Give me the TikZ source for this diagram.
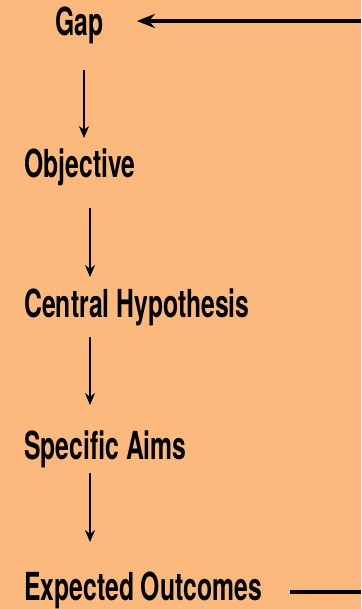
\documentclass[tikz,border=0pt]{standalone}
\usepackage{fontspec}
\setmainfont[FakeStretch=0.64]{TeX Gyre Heros}
\usepackage{tikz}
\usetikzlibrary{arrows.meta,positioning,calc}

\definecolor{peach}{RGB}{251,185,125}

\tikzset{
    step label/.style={anchor=base west,inner sep=0pt,font=\fontsize{19.3}{21}\selectfont\bfseries},
    flow/.style={->,line width=1.2pt},
    feedback/.style={line width=1.8pt}
}

\begin{document}
\begin{tikzpicture}[x=0.5pt,y=-0.5pt,line cap=butt,>={Stealth[length=6pt,width=5pt]}]

        % --- Background ---
        \fill[peach] (0,0) rectangle (361,609);
        \useasboundingbox (0,0) rectangle (361,609);

        % --- Steps ---
        \node[step label] (gap) at (55,36) {Gap};
        \node[step label] (objective) at (24,177) {Objective};
        \node[step label] (hypothesis) at (24,317) {Central Hypothesis};
        \node[step label] (aims) at (24,459) {Specific Aims};
        \node[step label] (outcomes) at (24,600) {Expected Outcomes};

        % free ends of the loop at the right edge
        \coordinate (loop top) at (361,21);
        \coordinate (loop bottom) at (361,592);

        % Downward flow
        \draw[flow] ($(gap.base west)+(29,34)$) -- ($(objective.base west)+(60,-39)$);
        \draw[flow] ($(objective.base west)+(66,31)$) -- ($(hypothesis.base west)+(66,-40)$);
        \draw[flow] ($(hypothesis.base west)+(66,20)$) -- ($(aims.base west)+(66,-54)$);
        \draw[flow] ($(aims.base west)+(66,14)$) -- ($(outcomes.base west)+(66,-58)$);

        % Back to the gap
        \draw[feedback,->,>={Stealth[length=9pt,width=7pt]}] (loop top) -- ($(gap.base east)+(33,-15)$);
        \draw[feedback] ($(outcomes.base east)+(28,-8)$) -- (loop bottom);

\end{tikzpicture}
\end{document}
